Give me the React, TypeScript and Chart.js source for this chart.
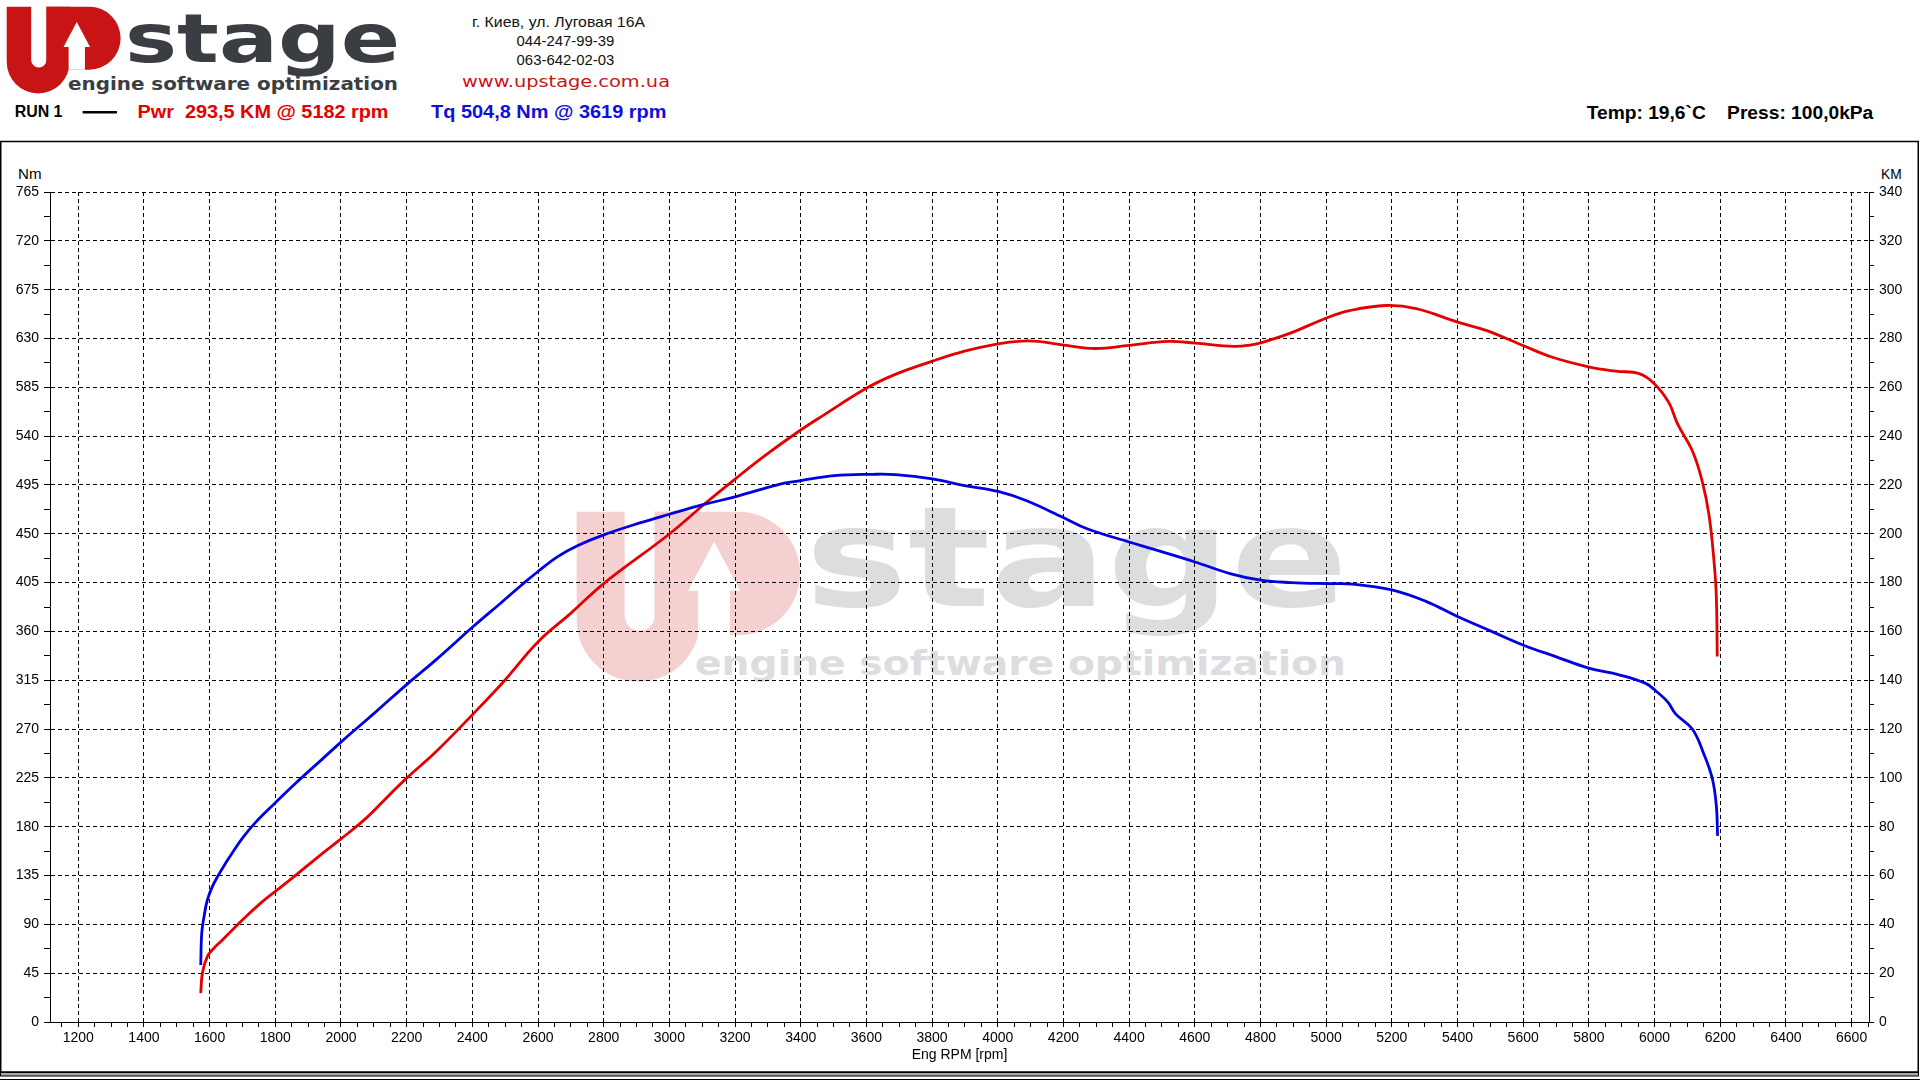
import React, { useEffect, useRef } from "react";
import { Chart, registerables } from "chart.js";

Chart.register(...registerables);

// ---------- data ----------
const torqueRpm = [1573, 1576, 1583, 1593, 1608, 1628, 1649, 1669, 1700, 1740, 1798, 1862, 1943, 2000, 2075, 2116, 2200, 2290, 2401, 2486, 2551, 2599, 2660, 2720, 2800, 2910, 3000, 3105, 3200, 3340, 3400, 3502, 3619, 3688, 3801, 3899, 4001, 4086, 4201, 4272, 4400, 4471, 4601, 4707, 4801, 4893, 5001, 5081, 5200, 5304, 5400, 5507, 5601, 5699, 5799, 5892, 5973, 6004, 6040, 6064, 6115, 6150, 6176, 6188, 6192];
const torqueNm = [52.6, 81.7, 97, 112.3, 124.6, 136, 146.5, 155.8, 169.5, 184, 201.5, 220.1, 242.3, 258, 277.7, 288.5, 311, 334, 364, 386, 403, 415, 429, 439, 449, 460, 468, 477, 484, 496, 499, 503.6, 504.8, 504.5, 500.5, 494.4, 489, 480.6, 464.7, 454.6, 442.4, 436, 424, 413.3, 407.2, 405, 404, 403.6, 398.3, 387.7, 373.7, 359.6, 347.3, 336.8, 326.2, 320, 312.1, 305.1, 295, 284, 270, 247.1, 224.2, 199.6, 171.5];

const powerRpm = [1573, 1578, 1593, 1613, 1639, 1669, 1710, 1760, 1798, 1862, 1943, 2000, 2075, 2146, 2200, 2290, 2401, 2497, 2599, 2703, 2800, 3000, 3116, 3200, 3291, 3400, 3465, 3601, 3688, 3801, 3899, 4001, 4073, 4123, 4201, 4297, 4400, 4520, 4601, 4719, 4769, 4801, 4893, 5001, 5071, 5182, 5274, 5400, 5487, 5601, 5689, 5799, 5882, 5953, 6000, 6044, 6070, 6115, 6145, 6166, 6181, 6188, 6191];
const powerKM = [11.8, 20, 26.8, 30.2, 33.6, 37.7, 43.1, 49.2, 53.3, 60.1, 69, 75, 83.3, 92.8, 99.9, 110.8, 126, 139.7, 155.6, 167.8, 179.6, 199.9, 213.2, 222.4, 232, 242.5, 248.2, 259.7, 265.3, 270.7, 274.8, 277.8, 278.9, 278.8, 277.3, 275.9, 277.2, 278.8, 278.1, 276.8, 277.3, 278.2, 282.3, 288.4, 291.4, 293.5, 292.2, 286.7, 283.3, 277, 272.3, 268.4, 266.6, 265.6, 261.4, 253.6, 245, 234, 221.6, 207.5, 188.8, 174.7, 149.7];

const xTickLabels = [1200, 1400, 1600, 1800, 2000, 2200, 2400, 2600, 2800, 3000, 3200, 3400, 3600, 3800, 4000, 4200, 4400, 4600, 4800, 5000, 5200, 5400, 5600, 5800, 6000, 6200, 6400, 6600];
const nmTickLabels = [0, 45, 90, 135, 180, 225, 270, 315, 360, 405, 450, 495, 540, 585, 630, 675, 720, 765];
const kmTickLabels = [0, 20, 40, 60, 80, 100, 120, 140, 160, 180, 200, 220, 240, 260, 280, 300, 320, 340];

const X_MIN = 1114;
const X_MAX = 6653;

const headerTexts = {
  address: "г. Киев, ул. Луговая 16А",
  phone1: "044-247-99-39",
  phone2: "063-642-02-03",
  url: "www.upstage.com.ua",
  run: "RUN 1",
  pwr: "Pwr  293,5 KM @ 5182 rpm",
  tq: "Tq 504,8 Nm @ 3619 rpm",
  env: "Temp: 19,6`C    Press: 100,0kPa",
};

// ---------- helpers ----------
const FONT = '"Liberation Sans", Arial, sans-serif';
const WIDE = '"DejaVu Sans", sans-serif';

const range = (a: number, b: number, step: number) => {
  const out: number[] = [];
  for (let i = 0; a + i * step <= b + 1e-9; i++) out.push(a + i * step);
  return out;
};
const xMinor = range(1150, 6650, 50);
const nmMinor = range(0, 765, 22.5);
const kmMinor = range(0, 340, 10);

type TProps = {
  x: number; y: number; w: number; size: number; text: string;
  fill?: string; weight?: string | number; family?: string;
};
const T = (p: TProps) => (
  <text
    x={p.x}
    y={p.y}
    textLength={p.w}
    lengthAdjust="spacingAndGlyphs"
    fontSize={p.size}
    fontFamily={p.family ?? FONT}
    fontWeight={p.weight ?? "normal"}
    fill={p.fill ?? "#000"}
    style={{ whiteSpace: "pre" }}
  >
    {p.text}
  </text>
);

const LogoMark = ({ x, y, s, red, arrow }: { x: number; y: number; s: number; red: string; arrow: string }) => (
  <g transform={`translate(${x},${y}) scale(${s})`}>
    <path d="M0,0 H24 V52 A7.5,7.5 0 0 0 39,52 V0 H61.7 V54.2 A30.85,30.85 0 0 1 0,54.2 Z" fill={red} />
    <path d="M39,0 H80.85 A30.85,30.85 0 0 1 80.85,61.7 H39 Z" fill={red} />
    <path d="M68.7,15 L81.7,39.5 L76.7,39.5 L76.7,61.7 L60.7,61.7 L60.7,39.5 L55.7,39.5 Z" fill={arrow} />
  </g>
);

export default function App() {
  const ref = useRef<HTMLCanvasElement>(null);

  useEffect(() => {
    document.body.style.margin = "0";
    const canvas = ref.current!;
    const tickFont = { family: FONT, size: 14 };
    const chart = new Chart(canvas, {
      type: "scatter",
      data: {
        datasets: [
          {
            label: "Tq",
            data: torqueRpm.map((r, i) => ({ x: r, y: torqueNm[i] })),
            yAxisID: "yNm",
            showLine: true,
            borderColor: "#0000e0",
            backgroundColor: "#0000e0",
            borderWidth: 2.8,
            pointRadius: 0,
            tension: 0.4,
            fill: false,
          },
          {
            label: "Pwr",
            data: powerRpm.map((r, i) => ({ x: r, y: powerKM[i] })),
            yAxisID: "yKM",
            showLine: true,
            borderColor: "#e50000",
            backgroundColor: "#e50000",
            borderWidth: 2.8,
            pointRadius: 0,
            tension: 0.4,
            fill: false,
          },
        ],
      },
      options: {
        animation: false,
        responsive: false,
        maintainAspectRatio: false,
        devicePixelRatio: 1,
        layout: { padding: { top: 50, left: 0, right: 0, bottom: 0 } },
        plugins: { legend: { display: false }, tooltip: { enabled: false } },
        scales: {
          x: {
            type: "linear",
            position: "bottom",
            min: X_MIN,
            max: X_MAX,
            afterBuildTicks: (s: any) => {
              s.ticks = xMinor.map((v) => ({ value: v }));
            },
            afterFit: (s: any) => {
              s.height = 50;
            },
            ticks: {
              autoSkip: false,
              maxRotation: 0,
              minRotation: 0,
              padding: 3,
              color: "#000",
              font: tickFont,
              callback: (v: any) => (xTickLabels.includes(Number(v)) ? String(v) : ""),
            },
            grid: {
              color: (c: any) => (xTickLabels.includes(c.tick?.value) ? "#000" : "rgba(0,0,0,0)"),
              lineWidth: 1,
              drawTicks: true,
              tickLength: 5,
              tickColor: "#000",
              tickWidth: 1,
            },
            border: { display: true, color: "#000", width: 1, dash: [4, 3] },
            title: {
              display: true,
              text: "Eng RPM [rpm]",
              color: "#000",
              font: { family: FONT, size: 14 },
              padding: { top: 0, bottom: 8 },
            },
          },
          yNm: {
            type: "linear",
            position: "left",
            min: 0,
            max: 765,
            afterBuildTicks: (s: any) => {
              s.ticks = nmMinor.map((v) => ({ value: v }));
            },
            afterFit: (s: any) => {
              s.width = 50;
            },
            ticks: {
              autoSkip: false,
              padding: 5,
              color: "#000",
              font: tickFont,
              callback: (v: any) => (nmTickLabels.includes(Number(v)) ? String(v) : ""),
            },
            grid: {
              color: (c: any) => (nmTickLabels.includes(c.tick?.value) ? "#000" : "rgba(0,0,0,0)"),
              lineWidth: 1,
              drawTicks: true,
              tickLength: 6,
              tickColor: "#000",
              tickWidth: 1,
            },
            border: { display: true, color: "#000", width: 1, dash: [4, 3] },
          },
          yKM: {
            type: "linear",
            position: "right",
            min: 0,
            max: 340,
            afterBuildTicks: (s: any) => {
              s.ticks = kmMinor.map((v) => ({ value: v }));
            },
            afterFit: (s: any) => {
              s.width = 49;
            },
            ticks: {
              autoSkip: false,
              padding: 5,
              color: "#000",
              font: tickFont,
              callback: (v: any) => (kmTickLabels.includes(Number(v)) ? String(v) : ""),
            },
            grid: {
              drawOnChartArea: false,
              drawTicks: true,
              tickLength: 5,
              tickColor: "#000",
              tickWidth: 1,
            },
            border: { display: true, color: "#000", width: 1 },
          },
        },
      } as any,
    });
    return () => chart.destroy();
  }, []);

  return (
    <div style={{ position: "fixed", left: 0, top: 0, width: 1920, height: 1080, background: "#fff", overflow: "hidden" }}>
      <svg width={1920} height={1080} style={{ position: "absolute", left: 0, top: 0 }}>
        {/* header logo */}
        <LogoMark x={6.7} y={6.7} s={1.02} red="#c81414" arrow="#fff" />
        <T x={125} y={61.7} w={275} size={67} text="stage" family={WIDE} weight="bold" fill="#3a3d41" />
        <T x={68} y={89.5} w={330} size={17.5} text="engine software optimization" family={WIDE} weight="bold" fill="#3a3d41" />

        {/* contact */}
        <T x={472} y={27.3} w={173} size={15} text={headerTexts.address} fill="#111" />
        <T x={516.6} y={45.5} w={97.7} size={15} text={headerTexts.phone1} fill="#111" />
        <T x={516.6} y={65} w={97.7} size={15} text={headerTexts.phone2} fill="#111" />
        <T x={462} y={86.5} w={208} size={16} text={headerTexts.url} family={WIDE} fill="#c81414" />

        {/* run line */}
        <T x={14.7} y={117.3} w={47.8} size={16} text={headerTexts.run} weight="bold" />
        <line x1={82.6} x2={117} y1={112.3} y2={112.3} stroke="#000" strokeWidth={2.6} />
        <T x={137.5} y={117.8} w={251} size={18.5} text={headerTexts.pwr} weight="bold" fill="#e50000" />
        <T x={431} y={117.8} w={235.5} size={18.5} text={headerTexts.tq} weight="bold" fill="#1010dd" />
        <T x={1586.7} y={119.3} w={286.6} size={17.5} text={headerTexts.env} weight="bold" />

        {/* chart box */}
        <rect x={0.75} y={141.5} width={1917.5} height={930.5} fill="none" stroke="#000" strokeWidth={1.5} />
        <rect x={0.5} y={1072.5} width={1918} height={3.5} fill="#a8a8a8" stroke="#000" strokeWidth={1} />
        <line x1={0} x2={1920} y1={1079.5} y2={1079.5} stroke="#000" strokeWidth={1} />

        {/* watermark */}
        <LogoMark x={576.7} y={511.7} s={2.0} red="#f5d0d1" arrow="#fff" />
        <T x={805} y={606} w={543} size={139} text="stage" family={WIDE} weight="bold" fill="#dcdddf" />
        <T x={695} y={675} w={651} size={33} text="engine software optimization" family={WIDE} weight="bold" fill="#dcdddf" />

        {/* axis unit labels */}
        <T x={18} y={179} w={23.5} size={14.5} text="Nm" />
        <T x={1881} y={179.3} w={20.7} size={14.5} text="KM" />
      </svg>
      <canvas
        ref={ref}
        width={1918}
        height={930}
        style={{ position: "absolute", left: 0, top: 142, width: 1918, height: 930 }}
      />
    </div>
  );
}
